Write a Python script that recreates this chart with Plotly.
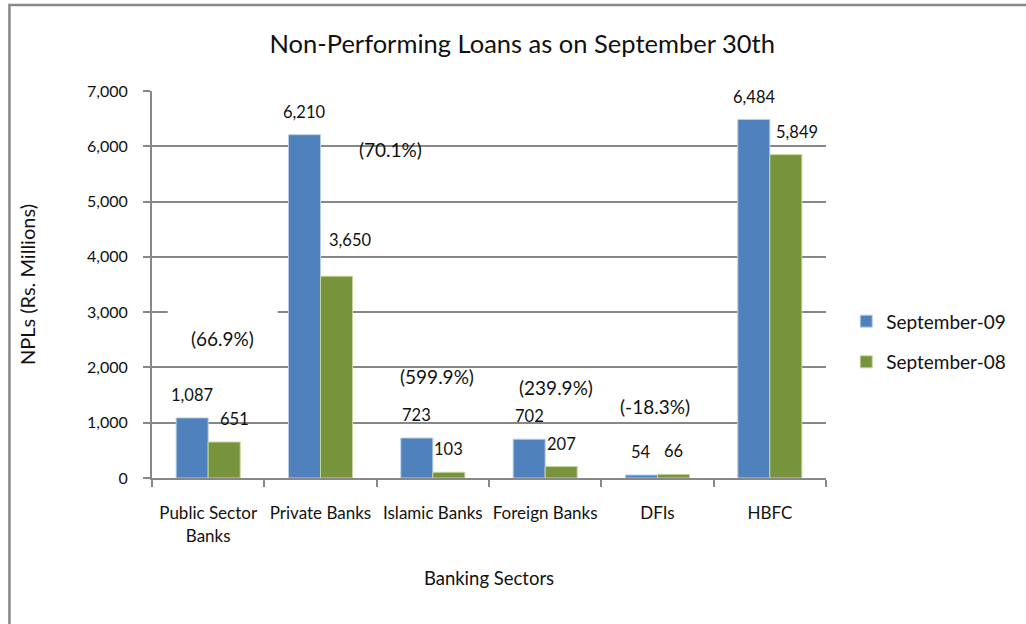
import plotly.graph_objects as go

# Non-performing loans by banking sector (Rs. millions)
sectors = ["Public Sector<br>Banks", "Private Banks", "Islamic Banks",
           "Foreign Banks", "DFIs", "HBFC"]
sep09 = [1087, 6210, 723, 702, 54, 6484]
sep08 = [651, 3650, 103, 207, 66, 5849]
change_labels = ["(66.9%)", "(70.1%)", "(599.9%)", "(239.9%)", "(-18.3%)", "(10.9%)"]
y_ticks = [0, 1000, 2000, 3000, 4000, 5000, 6000, 7000]

# placement of the free-floating change labels (category units, y units)
change_pos = [(0.13, 2530), (1.62, 5950), (2.04, 1845),
              (3.10, 1630), (3.98, 1285), (5.55, 6820)]
# small pixel nudges for a few value labels (x, y)
nudge09 = [(0, 0)] * 6
nudge08 = [(10, 0), (13, 13), (0, 0), (0, 0), (0, 0), (11, 0)]

BLUE = "#4F81BD"
GREEN = "#77933C"
GRID = "#878787"
FONT = "Lato"
TEXT = "#111111"
BARGAP = 0.43

fig = go.Figure()
fig.add_trace(go.Bar(
    x=sectors, y=sep09, name="September-09", legendgroup="a",
    marker=dict(color=BLUE, line=dict(color="#B9CDE5", width=1)),
))
fig.add_trace(go.Bar(
    x=sectors, y=sep08, name="September-08", legendgroup="b",
    marker=dict(color=GREEN, line=dict(color="#C3D69B", width=1)),
))

annotations = []
half = (1 - BARGAP) / 4
for i in range(len(sectors)):
    for vals, off, nudge in ((sep09, -half, nudge09), (sep08, half, nudge08)):
        annotations.append(dict(
            x=i + off, y=vals[i], xref="x", yref="y",
            text=f"{vals[i]:,}", showarrow=False,
            xshift=nudge[i][0], yshift=23 + nudge[i][1],
            font=dict(family=FONT, size=16.5, color=TEXT),
        ))
for txt, (cx, cy) in zip(change_labels, change_pos):
    annotations.append(dict(
        x=cx, y=cy, xref="x", yref="y", text=txt, showarrow=False,
        font=dict(family=FONT, size=19, color=TEXT),
    ))

shapes = [
    # outer chart frame (left and top edges)
    dict(type="path", xref="paper", yref="paper",
         path="M -0.2115 -0.5 L -0.2115 1.2222 L 1.35 1.2222",
         line=dict(color="#888888", width=2.5), layer="above"),
    # white text box behind the public-sector change label
    dict(type="rect", xref="x", yref="y", x0=-0.36, x1=0.62, y0=2200, y1=3025,
         fillcolor="white", line=dict(width=0), layer="between"),
]

fig.update_layout(
    width=1026, height=624,
    margin=dict(l=152, r=200, t=91, b=146, autoexpand=False),
    paper_bgcolor="white", plot_bgcolor="white",
    font=dict(family=FONT, color=TEXT),
    title=dict(text="Non-Performing Loans as on September 30th",
               x=0.509, xanchor="center", y=0.929, yanchor="middle",
               yref="container", font=dict(family=FONT, size=25.5, color=TEXT)),
    barmode="group", bargap=BARGAP, bargroupgap=0,
    showlegend=True,
    legend=dict(x=1.03, y=0.352, xanchor="left", yanchor="middle",
                font=dict(family=FONT, size=19), tracegroupgap=13,
                itemwidth=30, bgcolor="rgba(0,0,0,0)"),
    annotations=annotations,
    shapes=shapes,
)

fig.update_xaxes(
    type="category", categoryorder="array", categoryarray=sectors,
    range=[-0.5, len(sectors) - 0.5], automargin=False,
    showline=True, linecolor=GRID, linewidth=2,
    ticks="outside", tickson="boundaries", ticklen=7, tickcolor=GRID, tickwidth=2,
    ticklabelstandoff=19, tickangle=0,
    tickfont=dict(family=FONT, size=17, color=TEXT),
    showgrid=False, zeroline=False,
    title=dict(text="Banking Sectors", standoff=28,
               font=dict(family=FONT, size=18.5, color=TEXT)),
)
fig.update_yaxes(
    range=[0, 7000], tickvals=y_ticks, tickformat=",d", automargin=False,
    showline=True, linecolor=GRID, linewidth=2,
    ticks="outside", ticklen=7, tickcolor=GRID, tickwidth=2,
    ticklabelstandoff=12,
    tickfont=dict(family=FONT, size=16, color=TEXT),
    showgrid=True, gridcolor=GRID, gridwidth=1.6, zeroline=False,
    title=dict(text="NPLs (Rs. Millions)", standoff=46,
               font=dict(family=FONT, size=20, color=TEXT)),
)

fig.write_html("out.html")
